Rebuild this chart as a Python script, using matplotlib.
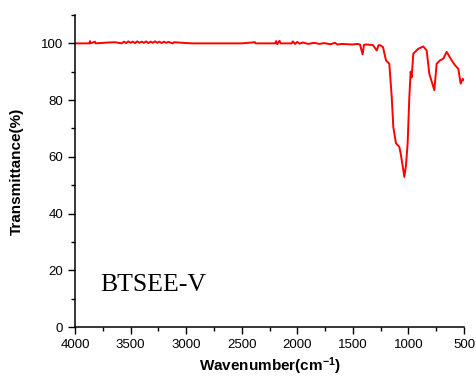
import matplotlib.pyplot as plt
from matplotlib.ticker import MultipleLocator

plt.rcParams['mathtext.fontset'] = 'custom'
plt.rcParams['mathtext.bf'] = 'Liberation Sans:bold'
plt.rcParams['mathtext.rm'] = 'Liberation Sans:bold'
plt.rcParams['mathtext.default'] = 'bf'

# FTIR spectrum (wavenumber, transmittance)
wavenumber = [4000, 3870, 3865, 3860, 3820, 3815, 3700, 3640, 3580, 3560, 3540, 3520, 3500,
              3480, 3460, 3440, 3420, 3400, 3380, 3360, 3340, 3320, 3300, 3280, 3260, 3240,
              3220, 3200, 3180, 3160, 3120, 3110, 2950, 2500, 2380, 2375, 2200, 2190, 2180,
              2160, 2150, 2050, 2040, 2020, 2000, 1980, 1950, 1900, 1850, 1800, 1760, 1700,
              1660, 1640, 1600, 1550, 1500, 1460, 1436, 1412, 1400, 1373, 1320, 1285, 1270,
              1256, 1229, 1202, 1172, 1150, 1136, 1112, 1082, 1070, 1046, 1037, 1022, 1007,
              992, 980, 971, 956, 911, 866, 836, 812, 767, 746, 716, 686, 656, 611, 581, 551,
              530, 512, 500]
transmittance = [100.0, 100.0, 100.8, 100.0, 100.6, 100.0, 100.3, 100.4, 100.0, 100.6, 100.1,
                 100.7, 100.2, 100.6, 100.1, 100.7, 100.2, 100.6, 100.2, 100.7, 100.1, 100.6,
                 100.2, 100.7, 100.2, 100.6, 100.1, 100.6, 100.2, 100.5, 100.0, 100.4, 100.0,
                 100.0, 100.4, 100.0, 100.0, 100.8, 99.7, 100.9, 100.0, 100.0, 100.7, 99.8,
                 100.5, 99.9, 100.3, 99.8, 100.2, 99.8, 100.1, 99.7, 100.2, 99.6, 99.8, 99.7,
                 99.6, 99.8, 99.6, 96.1, 99.5, 99.6, 99.4, 97.5, 99.3, 99.4, 98.7, 94.0, 92.8,
                 81.0, 70.5, 64.8, 63.5, 61.2, 55.3, 52.9, 57.0, 64.8, 81.0, 90.0, 88.0, 96.4,
                 98.1, 98.9, 97.5, 89.3, 83.5, 92.8, 94.0, 94.6, 97.0, 94.0, 92.3, 91.0, 85.8,
                 87.5, 87.0]

fig = plt.figure(figsize=(4.77, 3.78), dpi=100)
ax = fig.add_axes([75 / 477, 51 / 378, 389 / 477, 312 / 378])

ax.plot(wavenumber, transmittance, color='red', lw=1.4)

ax.set_xlim(4000, 500)
ax.set_ylim(0, 110)
ax.xaxis.set_major_locator(MultipleLocator(500))
ax.xaxis.set_minor_locator(MultipleLocator(250))
ax.yaxis.set_minor_locator(MultipleLocator(10))
ax.set_yticks([0, 20, 40, 60, 80, 100])

for s in ['top', 'right']:
    ax.spines[s].set_visible(False)
for s in ['left', 'bottom']:
    ax.spines[s].set_linewidth(1.1)

ax.tick_params(which='major', direction='out', length=5, width=1,
               labelsize=9.5, labelfontfamily='Liberation Sans')
ax.tick_params(which='minor', direction='out', length=3, width=1)

ax.set_xlabel('Wavenumber(cm$^{-1}$)', fontsize=11, fontweight='bold',
              family='Liberation Sans', labelpad=3)
ax.set_ylabel('Transmittance(%)', fontsize=11, fontweight='bold',
              family='Liberation Sans', labelpad=12)

ax.text(3775, 12.8, 'BTSEE-V', fontsize=18.5, family='Liberation Serif')

fig.savefig('out.png', dpi=100)
